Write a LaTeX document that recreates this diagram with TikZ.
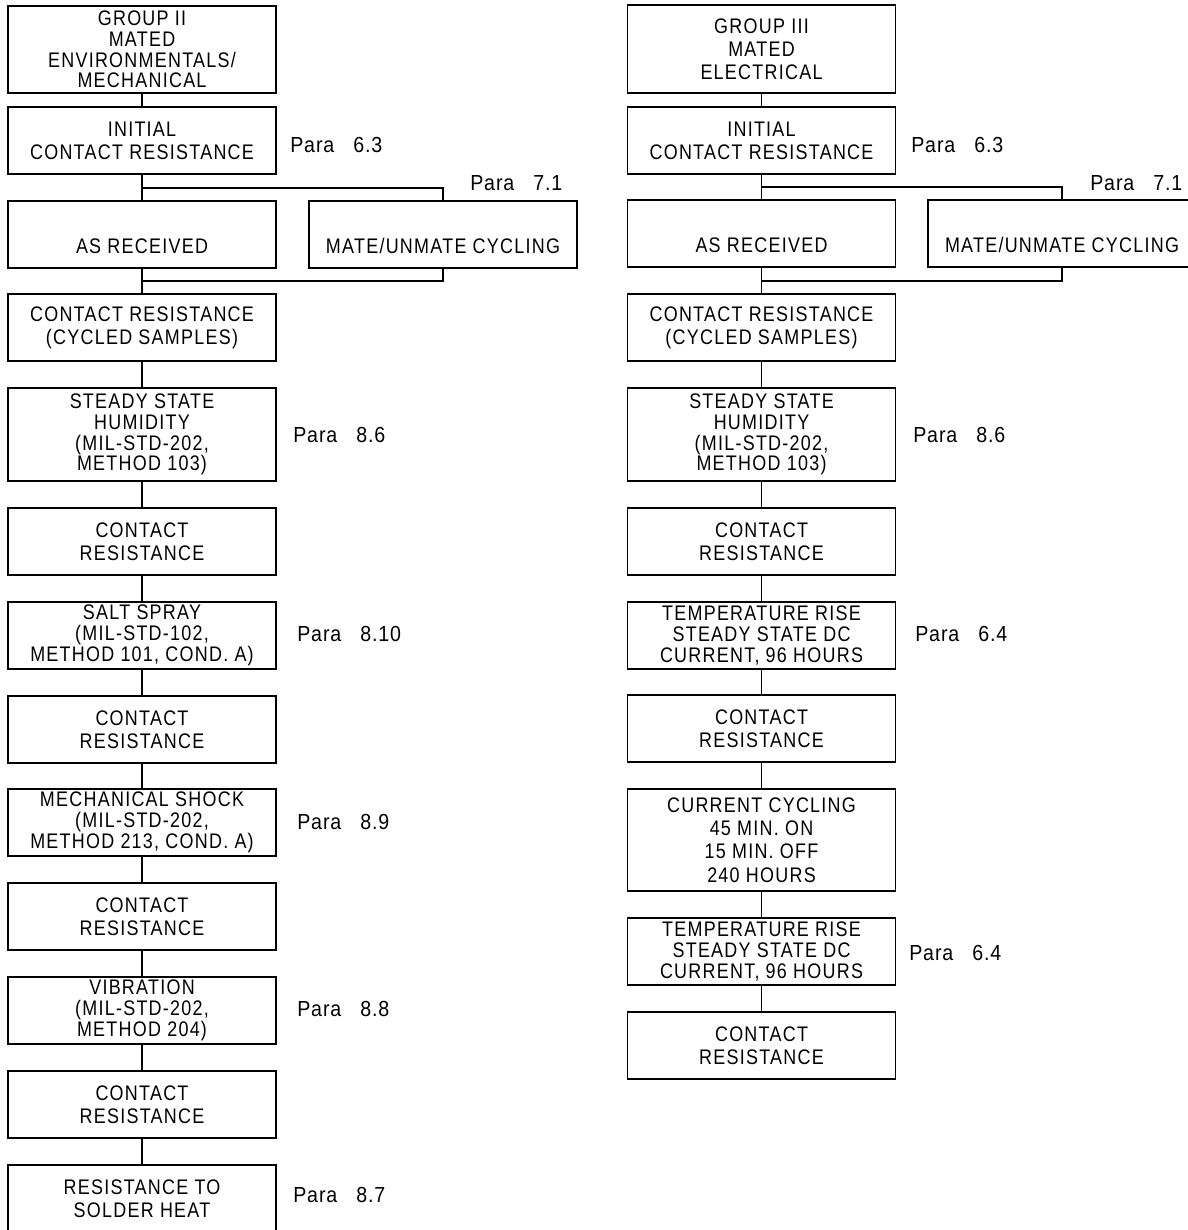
\documentclass[tikz,border=0pt]{standalone}
\usepackage{fontspec}
\setmainfont{Liberation Sans}[FakeStretch=0.85,LetterSpace=6]
\newfontfamily\parafont{Liberation Sans}[FakeStretch=0.9,LetterSpace=4,WordSpace=3]
\usepackage{tikz}

\begin{document}
\begin{tikzpicture}[x=0.025cm, y=-0.025cm, inner sep=0pt,
		box/.style={draw=black, line width=1.2pt, minimum width=6.7cm, minimum height=1.675cm, align=center, font=\fontsize{15}{16.5}\selectfont},
		tight/.style={font=\fontsize{15}{14.8}\selectfont},
		para/.style={anchor=west, font=\parafont\fontsize{15.5}{16}\selectfont}]
			\useasboundingbox (0,0) rectangle (1188,1230);
			
			% group II
			\node[box, tight, minimum height=2.175cm](L1) at (142,49.5) {GROUP II\\MATED\\ENVIRONMENTALS/\\MECHANICAL};
			\node[box](L2) at (142,140.5) {INITIAL\\CONTACT RESISTANCE};
			\node[box](L3) at (142,234.5) {\mbox{}\\[10pt]AS RECEIVED};
			\node[box](ML) at (443,234.5) {\mbox{}\\[10pt]MATE/UNMATE CYCLING};
			\node[box](L4) at (142,327.5) {CONTACT RESISTANCE\\(CYCLED SAMPLES)};
			\node[box, tight, minimum height=2.325cm](L5) at (142,434.5) {STEADY STATE\\HUMIDITY\\(MIL-STD-202,\\METHOD 103)};
			\node[box](L6) at (142,541.5) {CONTACT\\RESISTANCE};
			\node[box, tight](L7) at (142,635.5) {SALT SPRAY\\(MIL-STD-102,\\METHOD 101, COND. A)};
			\node[box](L8) at (142,729.5) {CONTACT\\RESISTANCE};
			\node[box, tight](L9) at (142,822.5) {MECHANICAL SHOCK\\(MIL-STD-202,\\METHOD 213, COND. A)};
			\node[box](L10) at (142,916.5) {CONTACT\\RESISTANCE};
			\node[box, tight](L11) at (142,1010.5) {VIBRATION\\(MIL-STD-202,\\METHOD 204)};
			\node[box](L12) at (142,1104.5) {CONTACT\\RESISTANCE};
			\node[box](L13) at (142,1198.5) {RESISTANCE TO\\SOLDER HEAT};
			\coordinate (SL) at (142,188);
			\coordinate (JL) at (142,281);
			
			% group III
			\node[box, minimum height=2.2cm](R1) at (761.5,49) {GROUP III\\MATED\\ELECTRICAL};
			\node[box](R2) at (761.5,140.5) {INITIAL\\CONTACT RESISTANCE};
			\node[box](R3) at (761.5,233.5) {\mbox{}\\[10pt]AS RECEIVED};
			\node[box](MR) at (1062,233.5) {\mbox{}\\[10pt]MATE/UNMATE CYCLING};
			\node[box](R4) at (761.5,327.5) {CONTACT RESISTANCE\\(CYCLED SAMPLES)};
			\node[box, tight, minimum height=2.325cm](R5) at (761.5,434.5) {STEADY STATE\\HUMIDITY\\(MIL-STD-202,\\METHOD 103)};
			\node[box](R6) at (761.5,541.5) {CONTACT\\RESISTANCE};
			\node[box, tight](R7) at (761.5,635.5) {TEMPERATURE RISE\\STEADY STATE DC\\CURRENT, 96 HOURS};
			\node[box](R8) at (761.5,728.5) {CONTACT\\RESISTANCE};
			\node[box, minimum height=2.55cm](R9) at (761.5,840) {CURRENT CYCLING\\45 MIN. ON\\15 MIN. OFF\\240 HOURS};
			\node[box, tight](R10) at (761.5,951.5) {TEMPERATURE RISE\\STEADY STATE DC\\CURRENT, 96 HOURS};
			\node[box](R11) at (761.5,1045.5) {CONTACT\\RESISTANCE};
			\coordinate (SR) at (761.5,187);
			\coordinate (JR) at (761.5,281);
			
			% para references
			\node[para](PL1) at (290,145) {Para 6.3};
			\node[para](PL2) at (470,183) {Para 7.1};
			\node[para](PL3) at (293,435) {Para 8.6};
			\node[para](PL4) at (297,634) {Para 8.10};
			\node[para](PL5) at (297,822) {Para 8.9};
			\node[para](PL6) at (297,1009) {Para 8.8};
			\node[para](PL7) at (293,1195) {Para 8.7};
			\node[para](PR1) at (911,145) {Para 6.3};
			\node[para](PR2) at (1090,183) {Para 7.1};
			\node[para](PR3) at (913,435) {Para 8.6};
			\node[para](PR4) at (915,634) {Para 6.4};
			\node[para](PR5) at (909,953) {Para 6.4};
			
			\draw[-, line width=1.2pt](L1) edge (L2);
			\draw[-, line width=1.2pt](L2) edge (L3);
			\draw[-, line width=1.2pt](L3) edge (L4);
			\draw[-, line width=1.2pt](L4) edge (L5);
			\draw[-, line width=1.2pt](L5) edge (L6);
			\draw[-, line width=1.2pt](L6) edge (L7);
			\draw[-, line width=1.2pt](L7) edge (L8);
			\draw[-, line width=1.2pt](L8) edge (L9);
			\draw[-, line width=1.2pt](L9) edge (L10);
			\draw[-, line width=1.2pt](L10) edge (L11);
			\draw[-, line width=1.2pt](L11) edge (L12);
			\draw[-, line width=1.2pt](L12) edge (L13);
			\draw[line width=1.2pt](SL) -| (ML.north);
			\draw[line width=1.2pt](ML.south) |- (JL);
			
			\draw[-, line width=1.2pt](R1) edge (R2);
			\draw[-, line width=1.2pt](R2) edge (R3);
			\draw[-, line width=1.2pt](R3) edge (R4);
			\draw[-, line width=1.2pt](R4) edge (R5);
			\draw[-, line width=1.2pt](R5) edge (R6);
			\draw[-, line width=1.2pt](R6) edge (R7);
			\draw[-, line width=1.2pt](R7) edge (R8);
			\draw[-, line width=1.2pt](R8) edge (R9);
			\draw[-, line width=1.2pt](R9) edge (R10);
			\draw[-, line width=1.2pt](R10) edge (R11);
			\draw[line width=1.2pt](SR) -| (MR.north);
			\draw[line width=1.2pt](MR.south) |- (JR);
		\end{tikzpicture}
\end{document}
